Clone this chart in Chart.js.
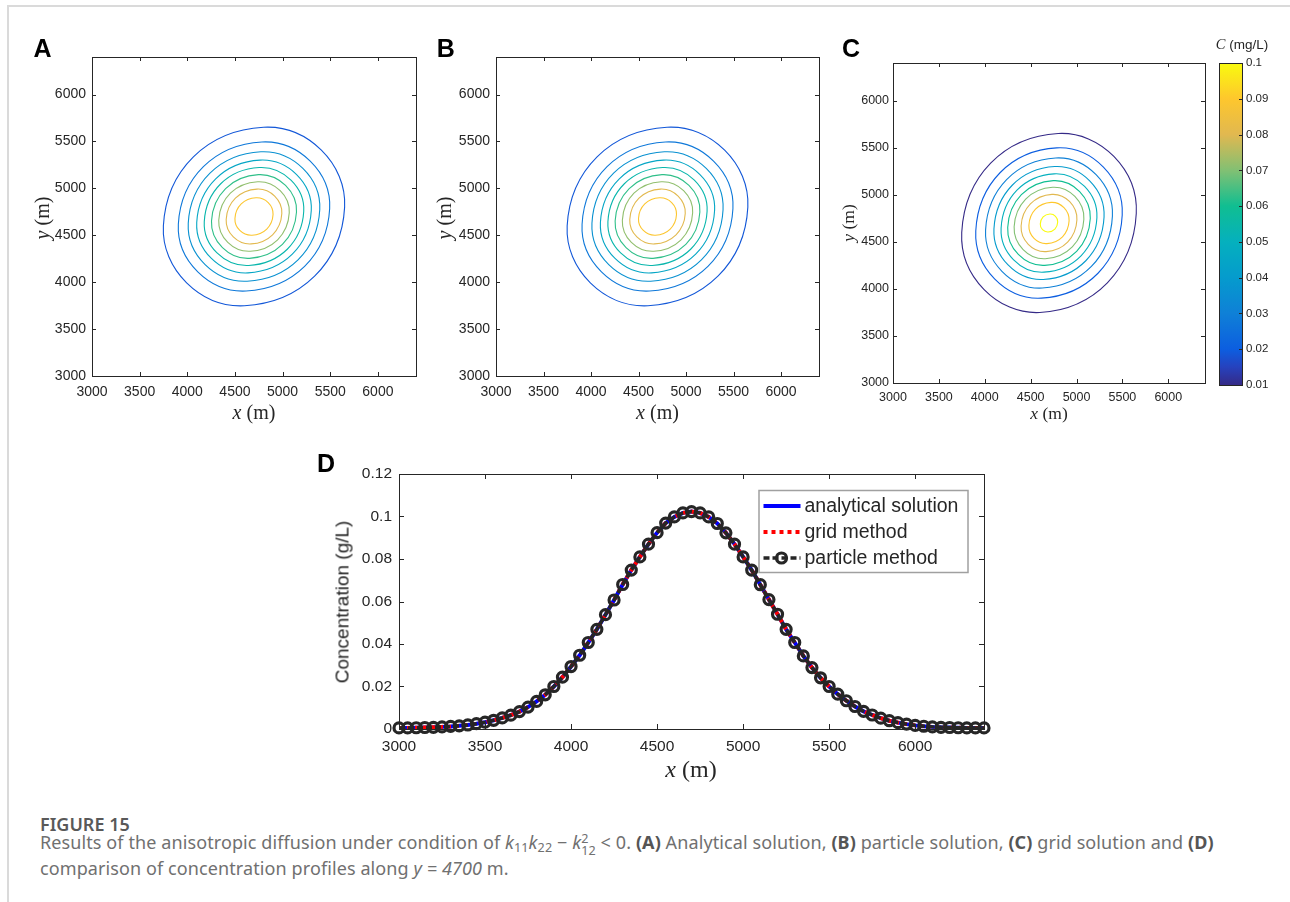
<!DOCTYPE html>
<html>
<head>
<meta charset="utf-8">
<script src="https://cdn.jsdelivr.net/npm/chart.js@4.4.0/dist/chart.umd.min.js"></script>
<style>
  html, body { margin: 0; padding: 0; background: #fff; }
  body { position: relative; width: 1290px; height: 902px; overflow: hidden;
         font-family: "Liberation Sans", Arial, Helvetica, sans-serif; color: #262626; }
  #frame { position: absolute; left: 7px; top: 5px; width: 1300px; height: 920px;
           border-top: 2px solid #dadada; border-left: 2px solid #dadada; }
  canvas { position: absolute; }
  .t { position: absolute; white-space: nowrap; line-height: 1; transform: translate(-50%, -50%); }
  .r { transform: translate(-50%, -50%) rotate(-90deg); }
  .tex { font-family: "Liberation Serif", "DejaVu Serif", serif; }
  .panel { font-weight: bold; font-size: 25px; color: #000; }
  #capTitle { position: absolute; left: 40px; top: 814px; font-family: "Noto Sans", sans-serif;
              font-size: 18px; font-weight: 600; color: #595959; line-height: 20px; }
  #capText { position: absolute; left: 40px; top: 831px; font-family: "Noto Sans", sans-serif;
             font-size: 18px; letter-spacing: 0.1px; color: #707070; line-height: 23px; white-space: nowrap; }
  #capText b { color: #555; }
  #capText sub { font-size: 0.7em; vertical-align: -0.25em; line-height: 0; }
  .ss { display: inline-block; vertical-align: -0.45em; font-size: 0.7em; line-height: 0.95; }
  .ss span { display: block; }
</style>
</head>
<body>
<div id="frame"></div>

<canvas id="mapA"></canvas>
<canvas id="mapB"></canvas>
<canvas id="mapC"></canvas>
<canvas id="colorbar"></canvas>
<canvas id="profile"></canvas>

<div class="t panel" style="left:42.5px;top:47.7px">A</div>
<div class="t panel" style="left:445.7px;top:47.7px">B</div>
<div class="t panel" style="left:851px;top:47.7px">C</div>
<div class="t panel" style="left:326px;top:462.5px">D</div>

<div class="t tex" style="left:254px;top:411.7px;font-size:20px"><i>x</i> (m)</div>
<div class="t tex r" style="left:41.5px;top:217.5px;font-size:20px"><i>y</i> (m)</div>
<div class="t tex" style="left:657.5px;top:411.7px;font-size:20px"><i>x</i> (m)</div>
<div class="t tex r" style="left:443.5px;top:217.5px;font-size:20px"><i>y</i> (m)</div>
<div class="t tex" style="left:1049px;top:413.6px;font-size:17.5px"><i>x</i> (m)</div>
<div class="t tex r" style="left:848.6px;top:223px;font-size:17.5px"><i>y</i> (m)</div>
<div class="t" style="left:1242px;top:44px;font-size:13.5px"><i class="tex" style="font-size:14.5px">C</i> (mg/L)</div>

<div class="t tex" style="left:691px;top:769px;font-size:24px"><i>x</i> (m)</div>
<div class="t r" style="left:341.7px;top:602px;font-size:19px">Concentration (g/L)</div>

<div id="capTitle">FIGURE 15</div>
<div id="capText">Results of the anisotropic diffusion under condition of <i>k</i><sub>11</sub><i>k</i><sub>22</sub> − <i>k</i><span class="ss"><span>2</span><span>12</span></span> &lt; 0. <b>(A)</b> Analytical solution, <b>(B)</b> particle solution, <b>(C)</b> grid solution and <b>(D)</b><br>comparison of concentration profiles along <i>y = 4700</i> m.</div>

<script>
// ---------------------------------------------------------------
// data
// ---------------------------------------------------------------
const mapRange = [3000, 6400];
const mapTicks = [3000, 3500, 4000, 4500, 5000, 5500, 6000];

const levelsAB = [0.01, 0.02, 0.03, 0.04, 0.05, 0.06, 0.07, 0.08, 0.09];
const levelsC = [0.01, 0.02, 0.03, 0.04, 0.05, 0.06, 0.07, 0.08, 0.09, 0.1];
const peakAB = 0.1023;                       // colour scale top for A and B
const colorbarRange = [0.01, 0.1];
const colorbarTicks = [0.01, 0.02, 0.03, 0.04, 0.05, 0.06, 0.07, 0.08, 0.09, 0.1];

// contour lines, one closed loop per level: x,y pairs in metres (W, NW, N, NE, E, SE, S, SW)
const contoursA = [
  [3749, 4600, 4064, 5336, 4800, 5651, 5407, 5407, 5651, 4800, 5336, 4064, 4600, 3749, 3993, 3993],
  [3906, 4617, 4169, 5231, 4783, 5494, 5290, 5290, 5494, 4783, 5231, 4169, 4617, 3906, 4110, 4110],
  [4010, 4628, 4238, 5162, 4772, 5390, 5213, 5213, 5390, 4772, 5162, 4238, 4628, 4010, 4187, 4187],
  [4099, 4637, 4298, 5102, 4763, 5301, 5147, 5147, 5301, 4763, 5102, 4298, 4637, 4099, 4253, 4253],
  [4178, 4645, 4351, 5049, 4755, 5222, 5088, 5088, 5222, 4755, 5049, 4351, 4645, 4178, 4312, 4312],
  [4254, 4653, 4402, 4998, 4747, 5146, 5031, 5031, 5146, 4747, 4998, 4402, 4653, 4254, 4369, 4369],
  [4330, 4661, 4452, 4948, 4739, 5070, 4975, 4975, 5070, 4739, 4948, 4452, 4661, 4330, 4425, 4425],
  [4408, 4669, 4505, 4895, 4731, 4992, 4917, 4917, 4992, 4731, 4895, 4505, 4669, 4408, 4483, 4483],
  [4500, 4679, 4566, 4834, 4721, 4900, 4849, 4849, 4900, 4721, 4834, 4566, 4679, 4500, 4551, 4551]
];
// particle solution reads the same as the analytical one at this size
const contoursB = contoursA;
const contoursC = [
  [3749, 4600, 4064, 5336, 4800, 5651, 5407, 5407, 5651, 4800, 5336, 4064, 4600, 3749, 3993, 3993],
  [3902, 4616, 4166, 5234, 4784, 5498, 5293, 5293, 5498, 4784, 5234, 4166, 4616, 3902, 4107, 4107],
  [4009, 4627, 4238, 5162, 4773, 5391, 5213, 5213, 5391, 4773, 5162, 4238, 4627, 4009, 4187, 4187],
  [4100, 4637, 4299, 5101, 4763, 5300, 5146, 5146, 5300, 4763, 5101, 4299, 4637, 4100, 4254, 4254],
  [4178, 4645, 4351, 5049, 4755, 5222, 5088, 5088, 5222, 4755, 5049, 4351, 4645, 4178, 4312, 4312],
  [4250, 4653, 4399, 5001, 4747, 5150, 5034, 5034, 5150, 4747, 5001, 4399, 4653, 4250, 4366, 4366],
  [4320, 4660, 4446, 4954, 4740, 5080, 4982, 4982, 5080, 4740, 4954, 4446, 4660, 4320, 4418, 4418],
  [4396, 4668, 4497, 4903, 4732, 5004, 4926, 4926, 5004, 4732, 4903, 4497, 4668, 4396, 4474, 4474],
  [4481, 4677, 4553, 4847, 4723, 4919, 4863, 4863, 4919, 4723, 4847, 4553, 4677, 4481, 4537, 4537],
  [4605, 4690, 4636, 4764, 4710, 4795, 4771, 4771, 4795, 4710, 4764, 4636, 4690, 4605, 4629, 4629]
];

// profile along y = 4700 m
const profileRange = [3000, 6400];
const profileTicks = [3000, 3500, 4000, 4500, 5000, 5500, 6000];
const concRange = [0, 0.12];
const concTicks = [0, 0.02, 0.04, 0.06, 0.08, 0.1, 0.12];
const profileX = [
  3000, 3050, 3100, 3150, 3200, 3250, 3300, 3350, 3400, 3450, 3500, 3550, 3600, 3650,
  3700, 3750, 3800, 3850, 3900, 3950, 4000, 4050, 4100, 4150, 4200, 4250, 4300, 4350,
  4400, 4450, 4500, 4550, 4600, 4650, 4700, 4750, 4800, 4850, 4900, 4950, 5000, 5050,
  5100, 5150, 5200, 5250, 5300, 5350, 5400, 5450, 5500, 5550, 5600, 5650, 5700, 5750,
  5800, 5850, 5900, 5950, 6000, 6050, 6100, 6150, 6200, 6250, 6300, 6350, 6400
];
const analyticalConc = [
  0.0005, 0.0005, 0.0006, 0.0007, 0.0008, 0.0010, 0.0012, 0.0015, 0.0019, 0.0025, 0.0032, 0.0041, 0.0052, 0.0065,
  0.0082, 0.0103, 0.0130, 0.0161, 0.0200, 0.0244, 0.0294, 0.0347, 0.0407, 0.0469, 0.0538, 0.0607, 0.0680, 0.0748,
  0.0810, 0.0870, 0.0924, 0.0969, 0.0998, 0.1017, 0.1023, 0.1017, 0.0998, 0.0967, 0.0923, 0.0870, 0.0810, 0.0748,
  0.0679, 0.0609, 0.0540, 0.0469, 0.0407, 0.0344, 0.0289, 0.0241, 0.0200, 0.0164, 0.0133, 0.0106, 0.0083, 0.0066,
  0.0051, 0.0039, 0.0030, 0.0023, 0.0017, 0.0013, 0.0010, 0.0008, 0.0007, 0.0006, 0.0005, 0.0005, 0.0005
];
const gridConc = [
  0.0005, 0.0005, 0.0006, 0.0007, 0.0008, 0.0010, 0.0012, 0.0015, 0.0019, 0.0025, 0.0032, 0.0041, 0.0052, 0.0065,
  0.0082, 0.0103, 0.0130, 0.0161, 0.0200, 0.0244, 0.0294, 0.0347, 0.0407, 0.0469, 0.0538, 0.0607, 0.0680, 0.0748,
  0.0810, 0.0870, 0.0924, 0.0969, 0.0998, 0.1017, 0.1023, 0.1017, 0.0998, 0.0967, 0.0923, 0.0870, 0.0810, 0.0748,
  0.0679, 0.0609, 0.0540, 0.0469, 0.0407, 0.0344, 0.0289, 0.0241, 0.0200, 0.0164, 0.0133, 0.0106, 0.0083, 0.0066,
  0.0051, 0.0039, 0.0030, 0.0023, 0.0017, 0.0013, 0.0010, 0.0008, 0.0007, 0.0006, 0.0005, 0.0005, 0.0005
];
const particleConc = [
  0.0005, 0.0005, 0.0006, 0.0007, 0.0008, 0.0010, 0.0012, 0.0015, 0.0019, 0.0025, 0.0032, 0.0041, 0.0052, 0.0065,
  0.0082, 0.0103, 0.0130, 0.0161, 0.0200, 0.0244, 0.0294, 0.0347, 0.0407, 0.0469, 0.0538, 0.0607, 0.0680, 0.0748,
  0.0810, 0.0870, 0.0924, 0.0969, 0.0998, 0.1017, 0.1023, 0.1017, 0.0998, 0.0967, 0.0923, 0.0870, 0.0810, 0.0748,
  0.0679, 0.0609, 0.0540, 0.0469, 0.0407, 0.0344, 0.0289, 0.0241, 0.0200, 0.0164, 0.0133, 0.0106, 0.0083, 0.0066,
  0.0051, 0.0039, 0.0030, 0.0023, 0.0017, 0.0013, 0.0010, 0.0008, 0.0007, 0.0006, 0.0005, 0.0005, 0.0005
];

// ---------------------------------------------------------------
// styling
// ---------------------------------------------------------------
const INK = '#262626';
const SANS = '"Liberation Sans", Arial, Helvetica, sans-serif';

// parula-like colour stops [t, [r, g, b]]
const PARULA = [
  [0.000, [53, 42, 135]],
  [0.056, [38, 66, 190]],
  [0.111, [12, 94, 224]],
  [0.222, [15, 128, 215]],
  [0.333, [5, 155, 205]],
  [0.444, [5, 176, 190]],
  [0.556, [16, 190, 145]],
  [0.667, [130, 192, 115]],
  [0.778, [225, 184, 80]],
  [0.889, [254, 199, 45]],
  [1.000, [249, 251, 14]]
];

function parula(t) {
  t = Math.min(1, Math.max(0, t));
  for (let i = 1; i < PARULA.length; i++) {
    const [t1, c1] = PARULA[i];
    const [t0, c0] = PARULA[i - 1];
    if (t <= t1) {
      const f = (t - t0) / (t1 - t0);
      const c = c0.map((v, k) => Math.round(v + (c1[k] - v) * f));
      return `rgb(${c[0]}, ${c[1]}, ${c[2]})`;
    }
  }
  return 'rgb(249, 251, 14)';
}

const toPoints = flat => {
  const pts = [];
  for (let i = 0; i < flat.length; i += 2) pts.push({ x: flat[i], y: flat[i + 1] });
  return pts;
};

Chart.defaults.font.family = SANS;
Chart.defaults.color = INK;

// ---------------------------------------------------------------
// plugins
// ---------------------------------------------------------------

// turn each contour dataset into a closed smooth loop
const closedLoops = {
  id: 'closedLoops',
  beforeDatasetsDraw(chart) {
    chart.getSortedVisibleDatasetMetas().forEach(meta => {
      const line = meta.dataset;
      if (!line) return;
      line._loop = true;
      line._fullLoop = true;
      line._pointsUpdated = false;
      delete line._path;
      delete line._segments;
      line.updateControlPoints(chart.chartArea, 'x');
    });
  }
};

// MATLAB style box with inward ticks
const matBox = {
  id: 'matBox',
  afterDatasetsDraw(chart, args, opts) {
    const { ctx, chartArea: a, scales } = chart;
    const len = opts.tickLen || 4;
    ctx.save();
    ctx.strokeStyle = INK;
    ctx.lineWidth = 1;
    ctx.beginPath();
    if (opts.xTicks !== false && scales.x && scales.x.options.display !== false) {
      scales.x.ticks.forEach(t => {
        const px = Math.round(scales.x.getPixelForValue(t.value)) + 0.5;
        ctx.moveTo(px, a.bottom); ctx.lineTo(px, a.bottom - len);
        ctx.moveTo(px, a.top); ctx.lineTo(px, a.top + len);
      });
    }
    scales.y.ticks.forEach(t => {
      const py = Math.round(scales.y.getPixelForValue(t.value)) + 0.5;
      if (opts.yLeft !== false) { ctx.moveTo(a.left, py); ctx.lineTo(a.left + len, py); }
      ctx.moveTo(a.right, py); ctx.lineTo(a.right - len, py);
    });
    ctx.stroke();
    ctx.strokeRect(a.left + 0.5, a.top + 0.5, a.right - a.left, a.bottom - a.top);
    ctx.restore();
  }
};

// colour bar fill, along the y scale
const colorbarFill = {
  id: 'colorbarFill',
  beforeDatasetsDraw(chart) {
    const { ctx, chartArea: a, scales: { y } } = chart;
    const y0 = y.getPixelForValue(colorbarRange[0]);
    const y1 = y.getPixelForValue(colorbarRange[1]);
    const g = ctx.createLinearGradient(0, y0, 0, y1);
    PARULA.forEach(([t]) => g.addColorStop(t, parula(t)));
    ctx.save();
    ctx.fillStyle = g;
    ctx.fillRect(a.left, a.top, a.right - a.left, a.bottom - a.top);
    ctx.restore();
  }
};

// legend box inside panel D
const profileLegend = {
  id: 'profileLegend',
  afterDatasetsDraw(chart, args, o) {
    const { ctx, chartArea: a } = chart;
    const x0 = a.right - o.right - o.width;
    const y0 = a.top + o.top;
    ctx.save();
    ctx.fillStyle = '#fff';
    ctx.fillRect(x0, y0, o.width, o.height);
    ctx.strokeStyle = '#a0a0a0';
    ctx.lineWidth = 1.5;
    ctx.strokeRect(x0 + 0.5, y0 + 0.5, o.width, o.height);
    chart.data.datasets.forEach((ds, i) => {
      const cy = y0 + o.rows[i];
      const sx = x0 + o.sample[0], ex = x0 + o.sample[1];
      ctx.strokeStyle = ds.borderColor;
      ctx.lineWidth = ds.borderWidth;
      ctx.setLineDash(ds.borderDash || []);
      ctx.beginPath(); ctx.moveTo(sx, cy); ctx.lineTo(ex, cy); ctx.stroke();
      ctx.setLineDash([]);
      if (ds.pointRadius) {
        ctx.lineWidth = ds.pointBorderWidth;
        ctx.beginPath(); ctx.arc(o.marker + x0, cy, ds.pointRadius, 0, Math.PI * 2); ctx.stroke();
      }
      ctx.fillStyle = INK;
      ctx.font = `${o.fontSize}px ${SANS}`;
      ctx.textBaseline = 'middle';
      ctx.fillText(ds.label, x0 + o.textX, cy + 1);
    });
    ctx.restore();
  }
};

// ---------------------------------------------------------------
// helpers
// ---------------------------------------------------------------
function placeCanvas(id, box) {
  const c = document.getElementById(id);
  c.width = box.w; c.height = box.h;
  Object.assign(c.style, { left: box.left + 'px', top: box.top + 'px', width: box.w + 'px', height: box.h + 'px' });
  return c;
}

function linearAxis(cfg) {
  return {
    type: 'linear',
    position: cfg.position,
    display: cfg.display !== false,
    min: cfg.range[0],
    max: cfg.range[1],
    grid: { display: false, drawTicks: false },
    border: { display: false },
    afterBuildTicks: s => { s.ticks = cfg.ticks.map(v => ({ value: v })); },
    afterFit: s => { if (s.isHorizontal()) s.height = cfg.size; else s.width = cfg.size; },
    ticks: {
      autoSkip: false, maxRotation: 0, padding: cfg.pad, color: INK,
      font: { family: SANS, size: cfg.font }, callback: v => String(v)
    }
  };
}

// box = canvas rectangle, area = wanted plot rectangle (page pixels)
function contourChart(id, box, area, loops, levels, colorOf, fontSize, pads) {
  const canvas = placeCanvas(id, box);
  return new Chart(canvas, {
    type: 'scatter',
    data: {
      datasets: loops.map((flat, i) => ({
        data: toPoints(flat),
        showLine: true,
        pointRadius: 0,
        borderWidth: 1.1,
        borderColor: colorOf(levels[i]),
        tension: 0.38,
        fill: false
      }))
    },
    options: {
      responsive: false, animation: false, events: [], devicePixelRatio: 1,
      layout: { padding: { left: 0, top: area.t - box.top, right: box.left + box.w - area.r, bottom: 0 } },
      plugins: { legend: { display: false }, tooltip: { enabled: false }, matBox: { tickLen: 4 } },
      scales: {
        x: linearAxis({ position: 'bottom', range: mapRange, ticks: mapTicks, size: box.top + box.h - area.b, pad: pads[0], font: fontSize }),
        y: linearAxis({ position: 'left', range: mapRange, ticks: mapTicks, size: area.l - box.left, pad: pads[1], font: fontSize })
      }
    },
    plugins: [closedLoops, matBox]
  });
}

// ---------------------------------------------------------------
// panels A, B, C
// ---------------------------------------------------------------
const colorAB = lv => parula(lv / peakAB);
const colorC = lv => parula((lv - colorbarRange[0]) / (colorbarRange[1] - colorbarRange[0]));

contourChart('mapA', { left: 20, top: 40, w: 410, h: 390 }, { l: 92, t: 57, r: 416, b: 376 },
  contoursA, levelsAB, colorAB, 14, [7.5, 6]);
contourChart('mapB', { left: 424, top: 40, w: 410, h: 390 }, { l: 496, t: 57, r: 819, b: 376 },
  contoursB, levelsAB, colorAB, 14, [7.5, 6]);
contourChart('mapC', { left: 821, top: 45, w: 395, h: 390 }, { l: 893, t: 63, r: 1205, b: 383 },
  contoursC, levelsC, colorC, 12.5, [7.5, 4]);

// colour bar
(() => {
  const box = { left: 1209, top: 45, w: 81, h: 400 };
  const area = { l: 1219, t: 63, r: 1242, b: 385 };
  new Chart(placeCanvas('colorbar', box), {
    type: 'scatter',
    data: { datasets: [] },
    options: {
      responsive: false, animation: false, events: [], devicePixelRatio: 1,
      layout: { padding: { left: area.l - box.left, top: area.t - box.top, right: 0, bottom: box.top + box.h - area.b } },
      plugins: { legend: { display: false }, tooltip: { enabled: false }, matBox: { tickLen: 3, xTicks: false, yLeft: false } },
      scales: {
        x: { type: 'linear', display: false, min: 0, max: 1 },
        y: linearAxis({ position: 'right', range: colorbarRange, ticks: colorbarTicks, size: box.left + box.w - area.r, pad: 4, font: 11.5 })
      }
    },
    plugins: [colorbarFill, matBox]
  });
})();

// ---------------------------------------------------------------
// panel D: profile comparison
// ---------------------------------------------------------------
(() => {
  const box = { left: 300, top: 455, w: 700, h: 335 };
  const area = { l: 399, t: 474, r: 984, b: 729 };
  const series = ys => profileX.map((x, i) => ({ x, y: ys[i] }));
  new Chart(placeCanvas('profile', box), {
    type: 'scatter',
    data: {
      datasets: [
        { label: 'analytical solution', data: series(analyticalConc), showLine: true, borderColor: '#0000ff',
          borderWidth: 4, pointRadius: 0, order: 2, clip: false },
        { label: 'grid method', data: series(gridConc), showLine: true, borderColor: '#ff0000',
          borderWidth: 4, borderDash: [4, 4], pointRadius: 0, order: 1, clip: false },
        { label: 'particle method', data: series(particleConc), showLine: true, borderColor: INK,
          borderWidth: 3.5, borderDash: [6, 3], pointRadius: 5, pointBorderWidth: 3.2,
          pointBorderColor: INK, pointBackgroundColor: 'rgba(0,0,0,0)', order: 0, clip: false }
      ]
    },
    options: {
      responsive: false, animation: false, events: [], devicePixelRatio: 1,
      layout: { padding: { left: 0, top: area.t - box.top, right: box.left + box.w - area.r, bottom: 0 } },
      plugins: {
        legend: { display: false }, tooltip: { enabled: false },
        matBox: { tickLen: 5 },
        profileLegend: { right: 16.5, top: 16, width: 209, height: 82, rows: [16, 42, 68],
                         sample: [5, 42], marker: 23, textX: 46, fontSize: 19.5 }
      },
      scales: {
        x: linearAxis({ position: 'bottom', range: profileRange, ticks: profileTicks, size: box.top + box.h - area.b, pad: 8, font: 15.5 }),
        y: linearAxis({ position: 'left', range: concRange, ticks: concTicks, size: area.l - box.left, pad: 7, font: 15.5 })
      }
    },
    plugins: [matBox, profileLegend]
  });
})();
</script>
</body>
</html>
